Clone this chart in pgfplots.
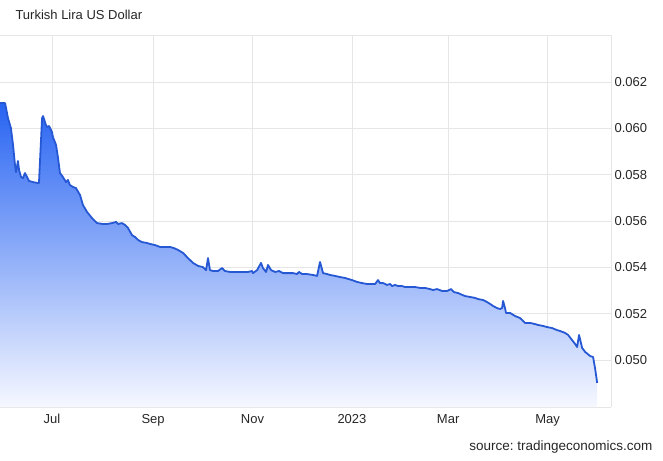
\documentclass[border=0pt]{standalone}
\usepackage{pgfplots}
\pgfplotsset{compat=1.18}
\usepackage{fontspec}
\setmainfont{Liberation Sans}
\frenchspacing
\definecolor{linec}{RGB}{38,88,212}
\definecolor{topc}{RGB}{40,100,242}
\definecolor{botc}{RGB}{246,248,255}
\definecolor{gridc}{RGB}{230,230,230}
\begin{document}
\begin{tikzpicture}[x=1pt,y=1pt]
\begin{axis}[
  at={(0pt,0pt)}, anchor=south west,
  scale only axis, width=611pt, height=372pt,
  xmin=-31.9, xmax=342.9, ymin=0.04797, ymax=0.06403,
  axis x line*=box, axis y line*=right,
  axis line style={draw=gridc, line width=0.8pt},
  xtick={0,62,123,184,243,304},
  xticklabels={Jul,Sep,Nov,2023,Mar,May},
  ytick={0.050,0.052,0.054,0.056,0.058,0.060,0.062},
  scaled y ticks=false,
  yticklabel style={/pgf/number format/fixed,/pgf/number format/precision=3,/pgf/number format/fixed zerofill,/pgf/number format/assume math mode=true},
  tick style={draw=none},
  grid=major, grid style={draw=gridc, line width=0.6pt},
  tick label style={font=\fontsize{13}{15}\selectfont, text=black!85},
  xticklabel style={yshift=-4pt},
  clip=true,
]
\addplot[draw=none, top color=topc, bottom color=botc, shading angle=0] coordinates {
(-31.9,0.06109)(-28.8,0.06109)(-28.2,0.06088)(-27.0,0.06044)(-25.2,0.06001)(-23.9,0.05928)(-22.7,0.05842)(-22.1,0.05811)(-21.5,0.05833)(-20.9,0.05859)(-20.2,0.05820)(-19.0,0.05790)(-17.8,0.05785)(-16.6,0.05807)(-15.3,0.05790)(-14.1,0.05773)(-11.7,0.05768)(-8.6,0.05764)(-8.0,0.05764)(-6.1,0.06044)(-5.5,0.06053)(-3.7,0.06014)(-3.1,0.06006)(-1.8,0.06010)(0,0.05984)(0.6,0.05962)(2.5,0.05928)(3.7,0.05872)(4.9,0.05807)(6.7,0.05790)(8.6,0.05768)(9.8,0.05777)(11.0,0.05755)(12.9,0.05747)(14.7,0.05742)(17.2,0.05712)(19.0,0.05669)(21.5,0.05639)(24.5,0.05613)(27.6,0.05591)(31.3,0.05587)
(33.7,0.05587)(36.8,0.05591)(39.3,0.05596)(40.5,0.05587)(42.9,0.05591)(44.8,0.05583)(46.6,0.05570)(49.1,0.05539)(50.9,0.05531)(52.8,0.05518)(55.2,0.05509)(58.3,0.05505)(60.1,0.05501)(63.2,0.05496)(66.3,0.05488)(69.3,0.05488)(72.4,0.05488)(74.8,0.05483)(77.3,0.05475)(80.4,0.05462)(83.4,0.05440)(86.5,0.05419)(89.6,0.05406)(92.6,0.05401)
(94.5,0.05388)(95.7,0.05440)(96.9,0.05388)(98.8,0.05384)(101.8,0.05384)(104.3,0.05397)(106.1,0.05384)(109.2,0.05380)(112.3,0.05380)(115.3,0.05380)(118.4,0.05380)(120.2,0.05380)(122.7,0.05384)(123.3,0.05375)(125.8,0.05388)(128.2,0.05419)(129.4,0.05397)(131.3,0.05380)(132.5,0.05410)(134.4,0.05388)(136.8,0.05380)(139.3,0.05384)(141.7,0.05375)(144.8,0.05375)(147.9,0.05375)(150.3,0.05371)(151.5,0.05380)(153.4,0.05371)(156.4,0.05371)(160.1,0.05367)(162.6,0.05363)(164.4,0.05423)(166.3,0.05375)(168.7,0.05371)(170.6,0.05367)
(173.6,0.05363)(176.7,0.05358)(179.8,0.05354)(181.6,0.05350)(184.0,0.05345)(187.1,0.05337)(190.2,0.05332)(193.3,0.05328)(196.3,0.05328)(198.2,0.05328)(200.0,0.05345)(201.2,0.05332)(203.1,0.05332)(205.5,0.05324)(207.4,0.05328)(208.6,0.05319)(210.4,0.05324)(212.3,0.05319)(214.7,0.05319)(216.6,0.05315)(219.6,0.05315)(222.7,0.05315)(225.8,0.05311)(228.8,0.05311)(231.9,0.05306)(233.7,0.05302)(236.2,0.05306)(239.3,0.05298)(242.3,0.05298)(243.6,0.05302)(244.8,0.05306)(246.6,0.05293)(249.1,0.05289)
(250.3,0.05285)(253.4,0.05276)(256.4,0.05272)(259.5,0.05268)(261.3,0.05263)(264.4,0.05259)(266.9,0.05250)(268.7,0.05242)(270.6,0.05233)(273.0,0.05224)(274.8,0.05220)(276.1,0.05224)(276.7,0.05255)(277.9,0.05224)(278.5,0.05203)(281.0,0.05203)(284.0,0.05190)(287.1,0.05181)(290.2,0.05160)(293.3,0.05160)(296.3,0.05155)(298.2,0.05151)(301.2,0.05147)(303.7,0.05142)(306.7,0.05138)(309.8,0.05129)(311.7,0.05125)(314.7,0.05117)(316.6,0.05108)(319.0,0.05086)(320.9,0.05069)(322.1,0.05056)(323.3,0.05108)(325.2,0.05052)(327.0,0.05035)(330.1,0.05017)(331.9,0.05013)(333.1,0.04965)(334.4,0.04901)
} \closedcycle;
\addplot[color=linec, line width=1.8pt, line join=round] coordinates {
(-31.9,0.06109)(-28.8,0.06109)(-28.2,0.06088)(-27.0,0.06044)(-25.2,0.06001)(-23.9,0.05928)(-22.7,0.05842)(-22.1,0.05811)(-21.5,0.05833)(-20.9,0.05859)(-20.2,0.05820)(-19.0,0.05790)(-17.8,0.05785)(-16.6,0.05807)(-15.3,0.05790)(-14.1,0.05773)(-11.7,0.05768)(-8.6,0.05764)(-8.0,0.05764)(-6.1,0.06044)(-5.5,0.06053)(-3.7,0.06014)(-3.1,0.06006)(-1.8,0.06010)(0,0.05984)(0.6,0.05962)(2.5,0.05928)(3.7,0.05872)(4.9,0.05807)(6.7,0.05790)(8.6,0.05768)(9.8,0.05777)(11.0,0.05755)(12.9,0.05747)(14.7,0.05742)(17.2,0.05712)(19.0,0.05669)(21.5,0.05639)(24.5,0.05613)(27.6,0.05591)(31.3,0.05587)
(33.7,0.05587)(36.8,0.05591)(39.3,0.05596)(40.5,0.05587)(42.9,0.05591)(44.8,0.05583)(46.6,0.05570)(49.1,0.05539)(50.9,0.05531)(52.8,0.05518)(55.2,0.05509)(58.3,0.05505)(60.1,0.05501)(63.2,0.05496)(66.3,0.05488)(69.3,0.05488)(72.4,0.05488)(74.8,0.05483)(77.3,0.05475)(80.4,0.05462)(83.4,0.05440)(86.5,0.05419)(89.6,0.05406)(92.6,0.05401)
(94.5,0.05388)(95.7,0.05440)(96.9,0.05388)(98.8,0.05384)(101.8,0.05384)(104.3,0.05397)(106.1,0.05384)(109.2,0.05380)(112.3,0.05380)(115.3,0.05380)(118.4,0.05380)(120.2,0.05380)(122.7,0.05384)(123.3,0.05375)(125.8,0.05388)(128.2,0.05419)(129.4,0.05397)(131.3,0.05380)(132.5,0.05410)(134.4,0.05388)(136.8,0.05380)(139.3,0.05384)(141.7,0.05375)(144.8,0.05375)(147.9,0.05375)(150.3,0.05371)(151.5,0.05380)(153.4,0.05371)(156.4,0.05371)(160.1,0.05367)(162.6,0.05363)(164.4,0.05423)(166.3,0.05375)(168.7,0.05371)(170.6,0.05367)
(173.6,0.05363)(176.7,0.05358)(179.8,0.05354)(181.6,0.05350)(184.0,0.05345)(187.1,0.05337)(190.2,0.05332)(193.3,0.05328)(196.3,0.05328)(198.2,0.05328)(200.0,0.05345)(201.2,0.05332)(203.1,0.05332)(205.5,0.05324)(207.4,0.05328)(208.6,0.05319)(210.4,0.05324)(212.3,0.05319)(214.7,0.05319)(216.6,0.05315)(219.6,0.05315)(222.7,0.05315)(225.8,0.05311)(228.8,0.05311)(231.9,0.05306)(233.7,0.05302)(236.2,0.05306)(239.3,0.05298)(242.3,0.05298)(243.6,0.05302)(244.8,0.05306)(246.6,0.05293)(249.1,0.05289)
(250.3,0.05285)(253.4,0.05276)(256.4,0.05272)(259.5,0.05268)(261.3,0.05263)(264.4,0.05259)(266.9,0.05250)(268.7,0.05242)(270.6,0.05233)(273.0,0.05224)(274.8,0.05220)(276.1,0.05224)(276.7,0.05255)(277.9,0.05224)(278.5,0.05203)(281.0,0.05203)(284.0,0.05190)(287.1,0.05181)(290.2,0.05160)(293.3,0.05160)(296.3,0.05155)(298.2,0.05151)(301.2,0.05147)(303.7,0.05142)(306.7,0.05138)(309.8,0.05129)(311.7,0.05125)(314.7,0.05117)(316.6,0.05108)(319.0,0.05086)(320.9,0.05069)(322.1,0.05056)(323.3,0.05108)(325.2,0.05052)(327.0,0.05035)(330.1,0.05017)(331.9,0.05013)(333.1,0.04965)(334.4,0.04901)
};
\end{axis}
\node[anchor=west, font=\fontsize{13}{15}\selectfont, text=black!85] at (12pt,392pt) {Turkish Lira US Dollar};
\node[anchor=east, font=\fontsize{13.5}{15}\selectfont, text=black!85] at (656pt,-40pt) {source: tradingeconomics.com};
\pgfresetboundingbox
\path (0pt,-53pt) rectangle (663pt,407pt);
\end{tikzpicture}
\end{document}
